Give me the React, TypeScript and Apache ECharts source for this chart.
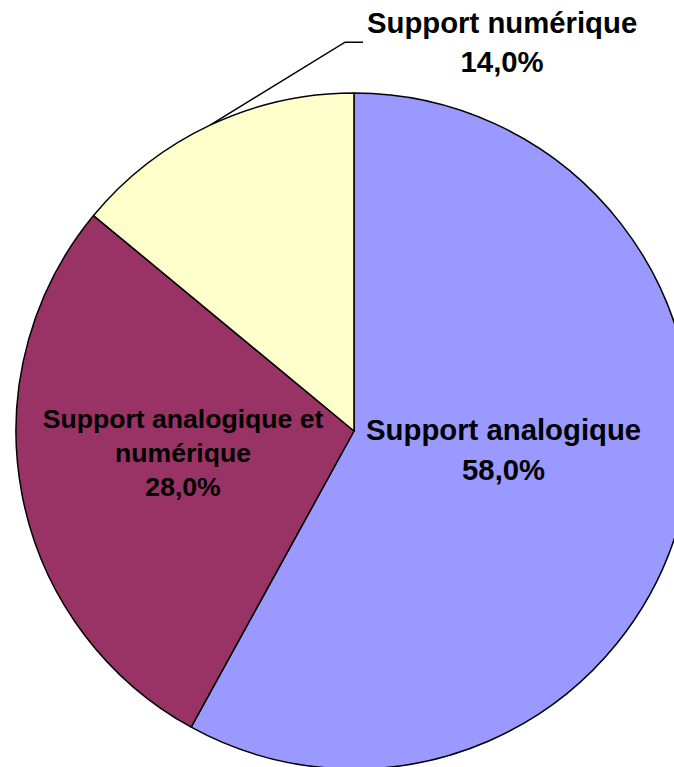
import React, { useEffect, useRef } from "react";
import * as echarts from "echarts";

const categories = ["Support analogique", "Support analogique et numérique", "Support numérique"];
const labelTexts = ["Support analogique", "Support analogique et\nnumérique", "Support numérique"];
const shares = [58.0, 28.0, 14.0];
const sliceColors = ["#9999FF", "#993366", "#FFFFCC"];

const fmt = (v: number) => v.toFixed(1).replace(".", ",") + "%";

export default function App() {
  const ref = useRef<HTMLDivElement>(null);
  useEffect(() => {
    document.body.style.margin = "0";
    const chart = echarts.init(ref.current!, null, { renderer: "svg" });
    const cx = 354;
    const cy = 431;
    const R = 338;
    const total = shares.reduce((a, b) => a + b, 0);
    const labelStyles = [
      { fontSize: 29.3, lineHeight: 40, position: "inside" },
      { fontSize: 26.6, lineHeight: 34, position: "inside" },
      { fontSize: 29.3, lineHeight: 39, position: "outside" },
    ];
    chart.setOption({
      animation: false,
      backgroundColor: "#ffffff",
      series: [
        {
          type: "pie",
          center: [cx, cy],
          radius: [0, R],
          startAngle: 90,
          clockwise: true,
          avoidLabelOverlap: false,
          itemStyle: { borderColor: "#000000", borderWidth: 1.5 },
          emphasis: { disabled: true },
          labelLine: { show: true, length: 20, length2: 20, lineStyle: { color: "#000", width: 1.5 } },
          data: categories.map((name, i) => ({
            name,
            value: shares[i],
            itemStyle: { color: sliceColors[i] },
            label: {
              show: true,
              position: labelStyles[i].position,
              formatter: () => labelTexts[i] + "\n" + fmt(shares[i]),
              fontFamily: "Liberation Sans, Arial, sans-serif",
              fontWeight: "bold",
              fontSize: labelStyles[i].fontSize,
              lineHeight: labelStyles[i].lineHeight,
              color: "#000000",
              align: "center",
            },
            labelLine: { show: i === 2 },
          })),
          labelLayout: (params: any) => {
            const i = params.dataIndex;
            if (i === 0) return { dx: -17, dy: -24 };
            if (i === 1) return { dx: -2, dy: -10 };
            let p0: number[];
            if (params.labelLinePoints && params.labelLinePoints[0]) {
              p0 = params.labelLinePoints[0];
            } else {
              const before = shares.slice(0, i).reduce((a, b) => a + b, 0);
              const mid = ((before + shares[i] / 2) / total) * Math.PI * 2;
              p0 = [cx + R * Math.sin(mid), cy - R * Math.cos(mid)];
            }
            const ly = p0[1] - 83;
            return {
              x: p0[0] + 292,
              y: ly,
              align: "center",
              verticalAlign: "middle",
              labelLinePoints: [
                [p0[0], p0[1]],
                [p0[0] + 135, ly],
                [p0[0] + 153, ly],
              ],
            };
          },
        },
      ],
    });
    return () => chart.dispose();
  }, []);
  return (
    <div
      ref={ref}
      style={{ position: "absolute", left: 0, top: 0, width: 674, height: 767 }}
    />
  );
}
